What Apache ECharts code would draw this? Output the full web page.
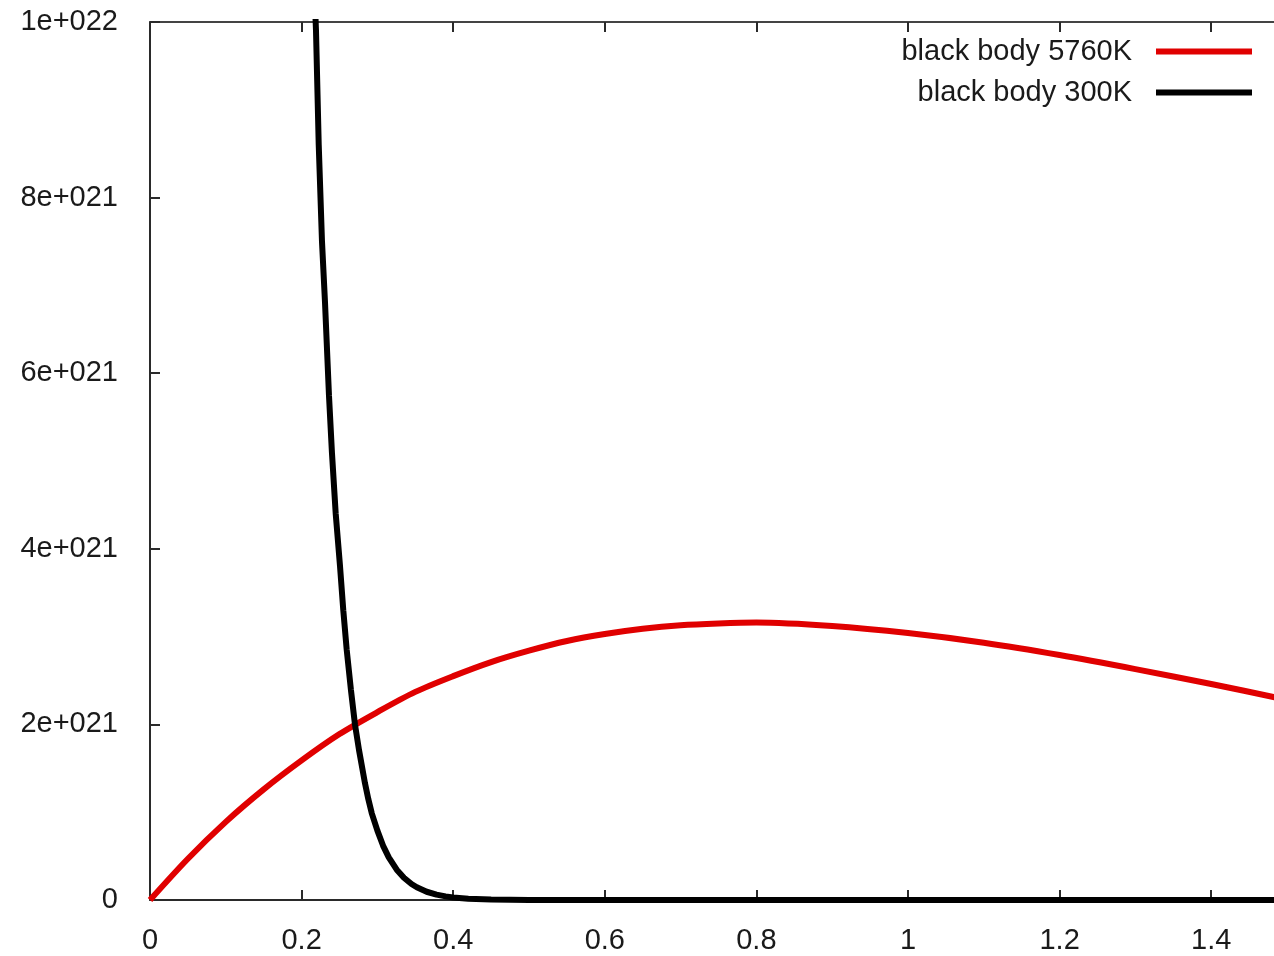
<!DOCTYPE html>
<html>
<head>
<meta charset="utf-8">
<script src="https://cdn.jsdelivr.net/npm/echarts@6/dist/echarts.min.js"></script>
<style>
  html, body { margin: 0; padding: 0; background: #ffffff; }
  #chart { width: 1274px; height: 956px; }
</style>
</head>
<body>
<div id="chart"></div>
<script>
// ---- data ----
const seriesNames = ['black body 5760K', 'black body 300K'];

// black body 5760K (red)
const hotX = [0, 0.05, 0.1, 0.15, 0.2, 0.25, 0.3, 0.35, 0.4, 0.45, 0.5, 0.55, 0.6, 0.65, 0.7, 0.75, 0.8, 0.9, 1.0, 1.1, 1.2, 1.3, 1.4, 1.5];
const hotY = [0, 0.47e21, 0.89e21, 1.26e21, 1.59e21, 1.89e21, 2.14e21, 2.37e21, 2.55e21, 2.71e21, 2.84e21, 2.95e21, 3.03e21, 3.09e21, 3.13e21, 3.15e21, 3.16e21, 3.12e21, 3.04e21, 2.93e21, 2.79e21, 2.63e21, 2.46e21, 2.28e21];

// black body 300K (black)
const coldX = [0.210, 0.215, 0.219, 0.2226, 0.2269, 0.2309, 0.2361, 0.240, 0.245, 0.2507, 0.255, 0.2595, 0.265, 0.2704, 0.2757, 0.2836, 0.288, 0.2925, 0.300, 0.3074, 0.315, 0.3255, 0.335, 0.345, 0.352, 0.365, 0.378, 0.39, 0.40, 0.42, 0.45, 0.5, 0.6, 0.8, 1.0, 1.2, 1.4, 1.5];
const coldY = [12.5e21, 10.8e21, 9.9e21, 8.6e21, 7.5e21, 6.8e21, 5.75e21, 5.1e21, 4.4e21, 3.8e21, 3.3e21, 2.85e21, 2.4e21, 2.0e21, 1.71e21, 1.33e21, 1.15e21, 0.99e21, 0.79e21, 0.62e21, 0.485e21, 0.345e21, 0.253e21, 0.182e21, 0.145e21, 0.094e21, 0.061e21, 0.041e21, 0.029e21, 0.015e21, 0.005e21, 0.001e21, 0, 0, 0, 0, 0, 0];

// tick labels
const xTickValues = [0, 0.2, 0.4, 0.6, 0.8, 1, 1.2, 1.4];
const xTickLabels = ['0', '0.2', '0.4', '0.6', '0.8', '1', '1.2', '1.4'];
const yTickLabels = ['0', '2e+021', '4e+021', '6e+021', '8e+021', '1e+022'];

// ---- chart ----
const FONT = "'Liberation Sans', Arial, sans-serif";
const TEXT_COLOR = '#1a1a1a';
const AXIS_COLOR = '#2a2a2a';
const FONT_SIZE = 29;

const chart = echarts.init(document.getElementById('chart'), null, { renderer: 'canvas' });

function xLabel(v) {
  for (let i = 0; i < xTickValues.length; i++) {
    if (Math.abs(v - xTickValues[i]) < 1e-9) return xTickLabels[i];
  }
  return '';
}
function yLabel(v) {
  const i = Math.round(v / 2e21);
  return (Math.abs(v - i * 2e21) < 1e15 && yTickLabels[i] !== undefined) ? yTickLabels[i] : '';
}

const option = {
  animation: false,
  backgroundColor: '#ffffff',
  textStyle: { fontFamily: FONT },
  grid: { left: 150, top: 22, bottom: 56, width: 1137, containLabel: false, outerBoundsMode: 'none' },
  legend: {
    orient: 'vertical',
    right: 22,
    top: 37,
    padding: 0,
    align: 'right',
    icon: 'rect',
    itemWidth: 96,
    itemHeight: 6,
    itemGap: 12,
    data: seriesNames,
    textStyle: { fontFamily: FONT, fontSize: FONT_SIZE, lineHeight: 28, color: TEXT_COLOR, padding: [0, 19, 0, 0] }
  },
  xAxis: [
    {
      type: 'value', position: 'bottom', min: 0, max: 1.5, interval: 0.2,
      axisLine: { show: true, onZero: false, lineStyle: { color: AXIS_COLOR, width: 2 } },
      axisTick: { show: true, inside: true, length: 10, lineStyle: { color: AXIS_COLOR, width: 2 } },
      axisLabel: { show: true, margin: 26, fontFamily: FONT, fontSize: FONT_SIZE, color: TEXT_COLOR, formatter: xLabel, showMaxLabel: false },
      splitLine: { show: false }
    },
    {
      type: 'value', position: 'top', min: 0, max: 1.5, interval: 0.2,
      axisLine: { show: true, onZero: false, lineStyle: { color: '#444444', width: 2 } },
      axisTick: { show: true, inside: true, length: 10, lineStyle: { color: AXIS_COLOR, width: 2 } },
      axisLabel: { show: false },
      splitLine: { show: false }
    }
  ],
  yAxis: {
    type: 'value', min: 0, max: 1e22, interval: 2e21,
    axisLine: { show: true, onZero: false, lineStyle: { color: AXIS_COLOR, width: 2 } },
    axisTick: { show: true, inside: true, length: 10, lineStyle: { color: AXIS_COLOR, width: 2 } },
    axisLabel: { show: true, margin: 32, fontFamily: FONT, fontSize: FONT_SIZE, color: TEXT_COLOR, formatter: yLabel },
    splitLine: { show: false }
  },
  series: [
    {
      name: seriesNames[0],
      type: 'line',
      xAxisIndex: 0,
      data: hotX.map((x, i) => [x, hotY[i]]),
      showSymbol: false,
      smooth: 0.3,
      clip: true,
      color: '#e00000',
      itemStyle: { color: '#e00000' },
      lineStyle: { color: '#e00000', width: 6 }
    },
    {
      name: seriesNames[1],
      type: 'line',
      xAxisIndex: 0,
      data: coldX.map((x, i) => [x, coldY[i]]),
      showSymbol: false,
      smooth: false,
      clip: true,
      color: '#000000',
      itemStyle: { color: '#000000' },
      lineStyle: { color: '#000000', width: 6 }
    }
  ]
};

chart.setOption(option);
</script>
</body>
</html>
